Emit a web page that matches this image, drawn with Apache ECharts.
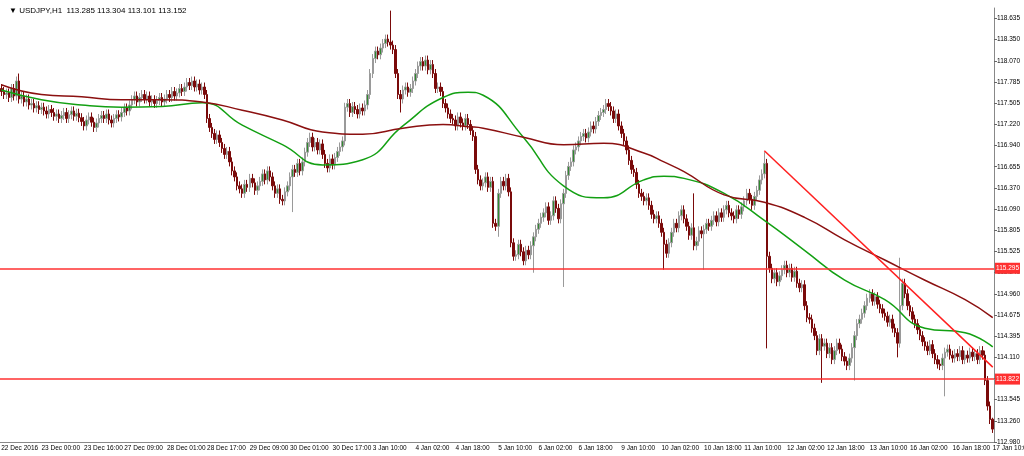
<!DOCTYPE html>
<html><head><meta charset="utf-8">
<script src="https://cdn.jsdelivr.net/npm/echarts@6/dist/echarts.min.js"></script>
<style>html,body{margin:0;padding:0;background:#fff}#c{width:1024px;height:456px}</style>
</head><body><div id="c"></div>
<script>
const firstOpen = 117.70;
const closes = [
117.66,117.62,117.64,117.58,117.70,117.60,117.80,117.56,
117.60,117.52,117.56,117.48,117.50,117.44,117.47,117.42,
117.45,117.40,117.36,117.42,117.38,117.33,117.36,117.30,
117.34,117.38,117.30,117.35,117.40,117.33,117.37,117.31,
117.26,117.20,117.28,117.32,117.25,117.18,117.24,117.30,
117.34,117.30,117.36,117.28,117.24,117.30,117.35,117.32,
117.38,117.44,117.40,117.48,117.55,117.60,117.52,117.58,
117.62,117.56,117.60,117.52,117.55,117.50,117.54,117.58,
117.52,117.56,117.62,117.58,117.66,117.60,117.64,117.70,
117.66,117.72,117.78,117.74,117.80,117.72,117.76,117.68,
117.72,117.62,117.30,117.18,117.10,117.02,117.08,116.98,
116.90,116.82,116.86,116.72,116.60,116.52,116.40,116.36,
116.30,116.42,116.38,116.50,116.44,116.34,116.40,116.46,
116.56,116.48,116.60,116.52,116.40,116.30,116.36,116.22,
116.20,116.32,116.40,116.52,116.62,116.58,116.70,116.60,
116.72,116.85,116.98,117.05,116.92,116.98,116.88,116.96,
116.82,116.70,116.64,116.76,116.68,116.78,116.86,116.92,
117.00,117.45,117.50,117.38,117.46,117.42,117.36,117.44,
117.40,117.48,117.62,117.90,118.10,118.20,118.15,118.24,
118.30,118.36,118.32,118.28,118.22,117.90,117.62,117.56,
117.68,117.72,117.65,117.70,117.80,117.90,118.00,118.06,
118.00,118.08,117.95,118.02,117.90,117.70,117.72,117.66,
117.50,117.44,117.36,117.30,117.28,117.20,117.32,117.24,
117.20,117.30,117.22,117.14,117.06,116.62,116.48,116.40,
116.44,116.52,116.38,116.46,115.90,115.86,116.30,116.46,
116.40,116.50,116.32,115.64,115.46,115.48,115.62,115.52,
115.40,115.54,115.48,115.60,115.72,115.82,115.90,115.98,
116.04,116.12,115.94,116.00,116.20,116.10,115.96,116.16,
116.30,116.54,116.66,116.72,116.88,116.92,117.00,117.06,
117.10,117.04,117.12,117.20,117.16,117.26,117.34,117.38,
117.42,117.50,117.46,117.40,117.30,117.36,117.20,117.10,
117.00,116.88,116.74,116.62,116.58,116.42,116.30,116.26,
116.20,116.24,116.14,116.02,115.96,116.00,115.90,115.78,
115.62,115.50,115.64,115.78,115.90,115.84,116.00,116.08,
115.96,115.86,115.74,115.84,115.60,115.66,115.80,115.76,
115.82,115.90,115.86,115.94,116.00,115.92,116.04,115.98,
116.08,116.14,116.04,116.00,115.96,116.08,116.02,116.12,
116.20,116.30,116.22,116.14,116.26,116.34,116.48,116.56,
116.70,115.46,115.30,115.16,115.24,115.12,115.20,115.28,
115.34,115.24,115.30,115.18,115.26,115.10,115.04,115.08,
114.80,114.64,114.62,114.50,114.40,114.20,114.36,114.26,
114.30,114.16,114.24,114.08,114.20,114.30,114.22,114.12,
114.06,114.00,114.10,114.24,114.40,114.56,114.62,114.70,
114.80,114.90,114.96,114.86,114.92,114.82,114.76,114.70,
114.66,114.58,114.62,114.50,114.44,114.30,114.80,115.10,
114.96,114.80,114.72,114.62,114.56,114.48,114.40,114.32,
114.26,114.20,114.28,114.16,114.08,114.02,114.00,114.10,
114.18,114.22,114.14,114.10,114.16,114.12,114.20,114.08,
114.14,114.10,114.18,114.12,114.16,114.08,114.20,114.14,
113.80,113.46,113.28,113.152];
const typicalWick = 0.06;
const wickSpikes = [
[7,117.90,null],[116,null,116.05],[155,118.74,null],[159,null,117.38],
[198,null,115.72],[212,null,115.24],[224,null,115.05],[264,null,115.28],
[276,116.30,null],[280,null,115.28],[304,116.85,null],[305,null,114.23],
[327,null,113.77],[340,null,113.80],[357,null,114.11],[358,115.44,null],
[376,null,113.59],[395,113.304,113.101]];
const maIdx = [0,16,32,48,64,80,96,112,128,144,160,176,186,192,208,224,240,256,264,272,288,304,320,336,352,368,384,395];
const maFast = [117.68,117.55,117.48,117.45,117.46,117.51,117.21,116.95,116.68,116.75,117.20,117.58,117.65,117.61,117.05,116.40,116.24,116.48,116.53,116.50,116.30,115.94,115.54,115.14,114.88,114.50,114.44,114.25];
const maSlow = [117.75,117.62,117.59,117.55,117.55,117.52,117.41,117.28,117.12,117.09,117.17,117.22,117.19,117.17,117.05,116.95,116.97,116.84,116.72,116.59,116.28,116.18,115.98,115.68,115.41,115.14,114.88,114.64];
const tickLabels = ["22 Dec 2016","23 Dec 00:00","23 Dec 16:00","27 Dec 09:00","28 Dec 01:00","28 Dec 17:00","29 Dec 09:00","30 Dec 01:00","30 Dec 17:00","3 Jan 10:00","4 Jan 02:00","4 Jan 18:00","5 Jan 10:00","6 Jan 02:00","6 Jan 18:00","9 Jan 10:00","10 Jan 02:00","10 Jan 18:00","11 Jan 10:00","12 Jan 02:00","12 Jan 18:00","13 Jan 10:00","16 Jan 02:00","16 Jan 18:00","17 Jan 10:00"];
const priceLabels = ["112.980","113.260","113.545","113.830","114.110","114.395","114.675","114.960","115.240","115.525","115.805","116.090","116.370","116.655","116.940","117.220","117.505","117.785","118.070","118.350","118.635"];
const levels = [115.295, 113.822];
const levelText = ["115.295", "113.822"];
const lastPrice = 113.152;
const trend = [[304,116.87],[395,113.98]];

const cats = closes.map((_, i) => i);
const spikeMap = {}; wickSpikes.forEach(s => spikeMap[s[0]] = s);
const ohlc = closes.map((c, i) => {
  const o = i === 0 ? firstOpen : closes[i-1];
  const s = spikeMap[i];
  const h = s && s[1] != null ? s[1] : Math.max(o, c) + typicalWick;
  const l = s && s[2] != null ? s[2] : Math.min(o, c) - typicalWick;
  return [o, c, l, h];
});
ohlc[395][0] = 113.285;
const fast = cats.map(() => null), slow = cats.map(() => null);
maIdx.forEach((ix, k) => { fast[ix] = maFast[k]; slow[ix] = maSlow[k]; });
const labelAt = {}; tickLabels.forEach((t, k) => labelAt[Math.min(395, Math.round(k * 16.46))] = t);

const FONT = 'Liberation Sans';
const ymin = 112.98, step = 0.28275, ymax = 118.775;
const chart = echarts.init(document.getElementById('c'));
const lbl = (txt, bg, fg) => ({show: true, position: 'end', formatter: txt, backgroundColor: bg, color: fg, fontSize: 6.5, fontFamily: FONT, padding: [2, 1], distance: 1});
chart.setOption({
  animation: false,
  textStyle: {fontFamily: FONT},
  title: {text: '▼ USDJPY,H1  113.285 113.304 113.101 113.152', left: 4, top: 2, textStyle: {fontSize: 8, fontWeight: 'normal', color: '#000', fontFamily: FONT}},
  grid: {left: 0, right: 30, top: 8, bottom: 14, containLabel: false, outerBoundsMode: 'none'},
  xAxis: {type: 'category', data: cats, boundaryGap: true,
    axisLine: {lineStyle: {color: '#888'}},
    axisTick: {interval: i => i in labelAt, lineStyle: {color: '#666'}, length: 3},
    axisLabel: {interval: i => i in labelAt, fontSize: 6.5, fontFamily: FONT, color: '#000', formatter: (v, i) => labelAt[i] || '', margin: 3, align: 'left', hideOverlap: false, showMinLabel: true, showMaxLabel: true},
    splitLine: {show: false}},
  yAxis: {type: 'value', position: 'right', min: ymin, max: ymax, interval: step,
    axisLine: {show: true, lineStyle: {color: '#888'}},
    axisTick: {show: true, length: 3, lineStyle: {color: '#666'}},
    axisLabel: {fontSize: 6.5, fontFamily: FONT, color: '#000', formatter: v => priceLabels[Math.round((v - ymin) / step)] || '', margin: 3, showMaxLabel: false},
    splitLine: {show: false}},
  series: [
    {type: 'candlestick', data: ohlc, barWidth: 2,
     itemStyle: {color: '#2f8a2f', color0: '#7a0a0a', borderColor: '#9a9a9a', borderColor0: '#7a0a0a', borderWidth: 1},
     markLine: {silent: true, symbol: 'none', data: [
       {yAxis: levels[0], lineStyle: {color: '#ff3030', width: 1.5, type: 'solid'}, label: lbl(levelText[0], '#ff3030', '#fff')},
       {yAxis: levels[1], lineStyle: {color: '#ff3030', width: 1.5, type: 'solid'}, label: lbl(levelText[1], '#ff3030', '#fff')},
       {yAxis: lastPrice, lineStyle: {opacity: 0}, label: lbl(lastPrice.toFixed(3), '#000', '#fff')},
       [{coord: trend[0]}, {coord: trend[1], label: {show: false}, lineStyle: {color: '#ff2020', width: 1.5, type: 'solid'}}]
     ]}},
    {type: 'line', data: fast, connectNulls: true, smooth: 0.5, showSymbol: false, lineStyle: {color: '#13a013', width: 1.5}, z: 3},
    {type: 'line', data: slow, connectNulls: true, smooth: 0.5, showSymbol: false, lineStyle: {color: '#8b1010', width: 1.5}, z: 3}
  ]
});
</script></body></html>
